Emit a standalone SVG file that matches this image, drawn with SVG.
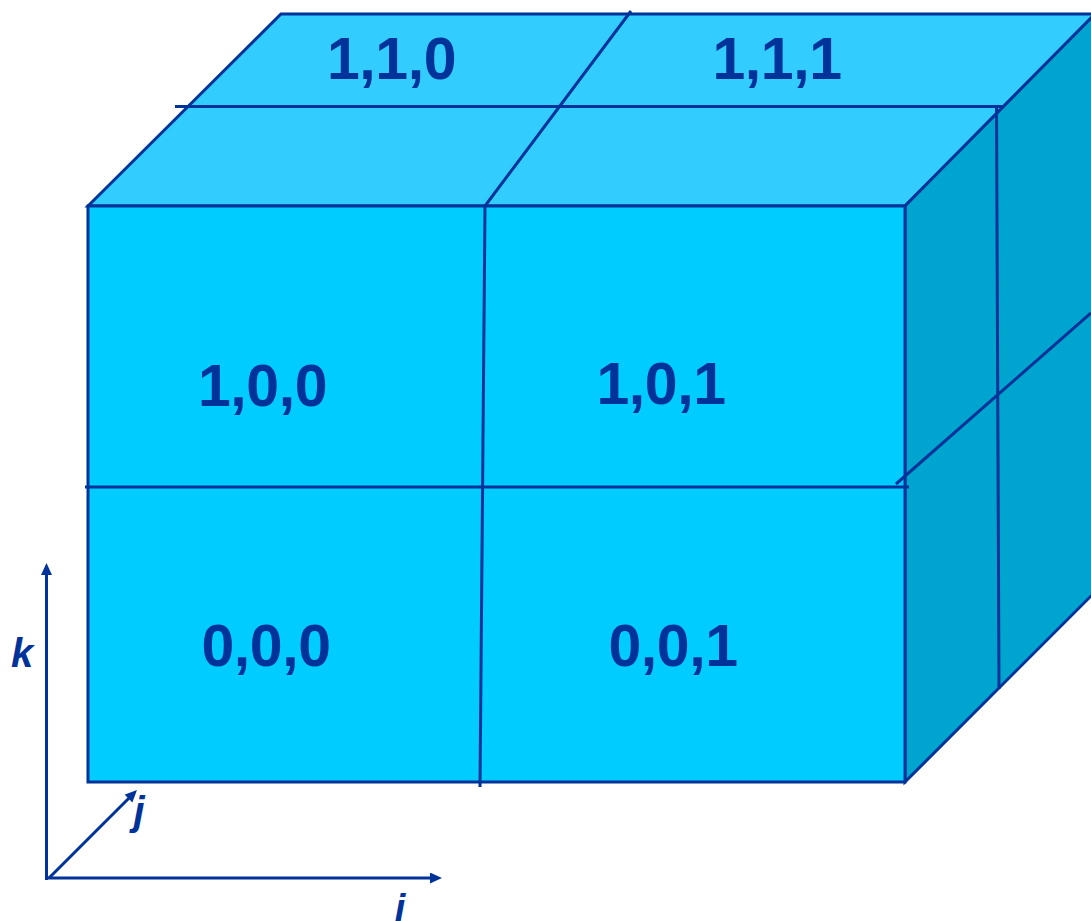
<svg xmlns="http://www.w3.org/2000/svg" width="1091" height="921" viewBox="0 0 1091 921">
<style>
.f{stroke:#003399;stroke-width:3;stroke-linejoin:miter}
.l{stroke:#003399;stroke-width:3;fill:none}
.a{stroke:#003399;stroke-width:3;fill:none;marker-end:url(#h)}
.t{font-family:"Liberation Sans",Arial,sans-serif;font-weight:bold;font-size:59px;letter-spacing:-0.4px;fill:#003399;text-anchor:middle}
.x{font-family:"Liberation Sans",Arial,sans-serif;font-weight:bold;font-style:italic;font-size:40px;fill:#003399;text-anchor:middle}
</style>
<defs><marker id="h" markerUnits="userSpaceOnUse" markerWidth="14" markerHeight="12" refX="4" refY="5.5" orient="auto"><path d="M0 0L12 5.5L0 11Z" fill="#003399"/></marker></defs>
<rect width="1091" height="921" fill="#fff"/>
<g id="cube">
<path class="f" fill="#33ccff" d="M88 206L281 14H1095L905 206Z"/>
<path class="f" fill="#00a5cf" d="M905 206L1095 14H1100V587L905 782Z"/>
<rect class="f" fill="#00ccff" x="88" y="206" width="817" height="576"/>
</g>
<g id="connectors">
<path class="l" d="M175 106.500H1002M631 11L485 206M485 206L480 787M85 487H909M996.500 106L999 689M896 484L1091 313"/>
<path class="a" d="M46.500 880V571"/>
<path class="a" d="M47 878H434"/>
<path class="a" d="M49 878L131.300 795.700"/>
</g>
<g id="n110"><text class="t" x="391.500" y="79">1,1,0</text></g>
<g id="n111"><text class="t" x="777" y="79">1,1,1</text></g>
<g id="n100"><text class="t" x="262.500" y="406">1,0,0</text></g>
<g id="n101"><text class="t" x="661" y="404">1,0,1</text></g>
<g id="n000"><text class="t" x="266" y="666">0,0,0</text></g>
<g id="n001"><text class="t" x="673" y="666">0,0,1</text></g>
<g id="axes"><text class="x" x="22" y="667">k</text><text class="x" x="139" y="825">j</text><text class="x" x="400" y="921" style="font-size:38px">i</text></g>
</svg>
